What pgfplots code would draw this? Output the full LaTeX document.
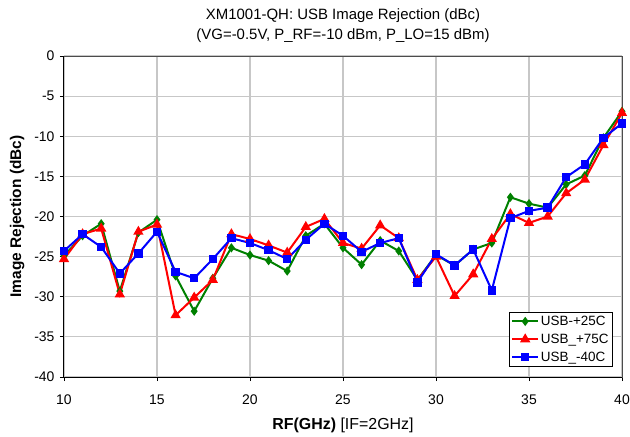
\documentclass[border=0pt]{standalone}
\usepackage{fontspec}
\setmainfont{Liberation Sans}
\usepackage{pgfplots}
\pgfplotsset{compat=1.18}
\definecolor{sgreen}{HTML}{008000}
\definecolor{sred}{HTML}{FF0000}
\definecolor{sblue}{HTML}{0000FF}
\begin{document}
\begin{tikzpicture}
\path[use as bounding box] (-64bp,-60bp) rectangle (566bp,377bp);
\begin{axis}[
  at={(0,0)}, anchor=south west,
  scale only axis, width=558bp, height=321bp,
  xmin=10, xmax=40, ymin=-40, ymax=0,
  xtick={10,15,...,40}, ytick={-40,-35,...,0},
  clip=false,
  grid=major, major grid style={draw=black!22, line width=1.2bp},
  axis line style={draw=black!70, line width=1bp},
  tick align=outside, xtick pos=left, ytick pos=left,
  major tick length=4bp,
  tick style={black, line width=0.8bp},
  /pgf/number format/assume math mode=true,
  tick label style={font=\fontsize{14}{16}\selectfont},
  yticklabel style={xshift=-2bp},
  xticklabel style={yshift=-10bp},
  xlabel={\textbf{RF(GHz)} [IF=2GHz]},
  ylabel={\textbf{Image Rejection (dBc)}},
  xlabel style={font=\fontsize{16}{18}\selectfont, yshift=-7bp},
  ylabel style={font=\fontsize{15.5}{18}\selectfont, yshift=3bp},
  title={XM1001-QH: USB Image Rejection (dBc)\\(VG=-0.5V, P\_RF=-10 dBm, P\_LO=15 dBm)},
  title style={align=center, font=\fontsize{15}{20}\selectfont, at={(0.5,1)}, anchor=south, yshift=4bp},
  legend style={at={(1,0)}, anchor=south east, xshift=-9bp, yshift=10bp,
    font=\fontsize{13.5}{16}\selectfont, draw=black, line width=0.8bp,
    cells={anchor=west}, row sep=3bp, inner sep=2bp},
  legend image code/.code={\draw[mark repeat=2,mark phase=2] plot coordinates {(0cm,0cm) (0.45cm,0cm) (0.9cm,0cm)};},
  every axis plot/.append style={line width=2bp},
]
\addplot[sgreen, mark=diamond*, mark size=3bp, mark options={solid}] coordinates {
(10,-24.9) (11,-22.4) (12,-20.9) (13,-29.3) (14,-22.0) (15,-20.4) (16,-27.4) (17,-31.8) (18,-27.7) (19,-23.9) (20,-24.8)
(21,-25.5) (22,-26.8) (23,-22.4) (24,-20.9) (25,-23.9) (26,-26.0) (27,-23.0) (28,-24.3) (29,-27.9) (30,-24.8)
(31,-26.1) (32,-24.1) (33,-23.3) (34,-17.6) (35,-18.4) (36,-18.9) (37,-16.0) (38,-14.9) (39,-10.2) (40,-6.9)};
\addlegendentry{USB-+25C}
\addplot[sred, mark=triangle*, mark size=4bp, mark options={solid}] coordinates {
(10,-25.3) (11,-22.2) (12,-21.5) (13,-29.7) (14,-21.9) (15,-21.0) (16,-32.3) (17,-30.1) (18,-27.9) (19,-22.2) (20,-22.8)
(21,-23.6) (22,-24.5) (23,-21.3) (24,-20.3) (25,-23.3) (26,-24.0) (27,-21.1) (28,-22.7) (29,-27.9) (30,-25.0)
(31,-29.9) (32,-27.2) (33,-22.8) (34,-19.7) (35,-20.8) (36,-20.0) (37,-17.1) (38,-15.4) (39,-11.1) (40,-7.1)};
\addlegendentry{USB\_+75C}
\addplot[sblue, mark=square*, mark size=3.2bp, mark options={solid}] coordinates {
(10,-24.3) (11,-22.2) (12,-23.8) (13,-27.1) (14,-24.6) (15,-21.9) (16,-26.9) (17,-27.7) (18,-25.3) (19,-22.7) (20,-23.3)
(21,-24.2) (22,-25.3) (23,-22.9) (24,-20.9) (25,-22.4) (26,-24.4) (27,-23.3) (28,-22.7) (29,-28.2) (30,-24.7)
(31,-26.1) (32,-24.1) (33,-29.2) (34,-20.2) (35,-19.3) (36,-18.9) (37,-15.1) (38,-13.5) (39,-10.2) (40,-8.4)};
\addlegendentry{USB\_-40C}
\draw[black, line width=1bp] (rel axis cs:0,1) -- (rel axis cs:0,0) -- (rel axis cs:1,0);
\end{axis}
\end{tikzpicture}
\end{document}
